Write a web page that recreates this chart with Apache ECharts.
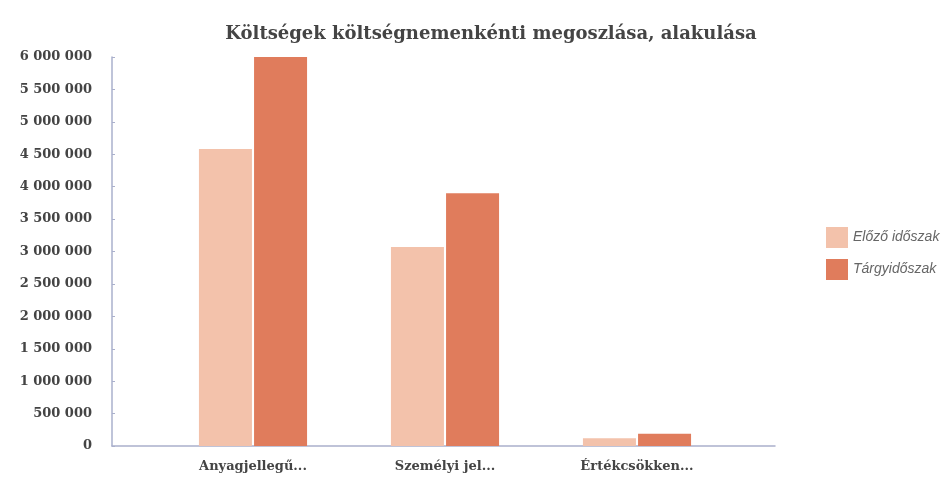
<!DOCTYPE html>
<html>
<head>
<meta charset="utf-8">
<script src="https://cdn.jsdelivr.net/npm/echarts@6/dist/echarts.min.js"></script>
<style>html,body{margin:0;padding:0;background:#fff}#c{width:941px;height:477px}</style>
</head>
<body>
<div id="c"></div>
<script>
var categories = ['Anyagjellegű...', 'Személyi jel...', 'Értékcsökken...'];
var seriesNames = ['Előző időszak', 'Tárgyidőszak'];
var prevValues = [4580000, 3070000, 120000];
var currValues = [6000000, 3900000, 190000];
var yTicks = { min: 0, max: 6000000, interval: 500000 };

var chart = echarts.init(document.getElementById('c'), null, { renderer: 'canvas' });
function fmt(v) { return String(v).replace(/\B(?=(\d{3})+(?!\d))/g, ' '); }
var serif = '"DejaVu Serif", "Liberation Serif", serif';
chart.setOption({
  animation: false,
  backgroundColor: '#fff',
  title: {
    text: 'Költségek költségnemenkénti megoszlása, alakulása',
    left: 486, top: 20, textAlign: 'center',
    textStyle: { fontFamily: serif, fontSize: 18, fontWeight: 'bold', color: '#444' }
  },
  legend: {
    orient: 'vertical', left: 821, top: 222,
    itemWidth: 22, itemHeight: 21, itemGap: 11,
    icon: 'rect',
    data: seriesNames,
    textStyle: { fontFamily: '"Liberation Sans", Arial, sans-serif', fontStyle: 'italic', fontSize: 14, color: '#666' }
  },
  grid: [
    { left: 157, right: 208, top: 57, bottom: 31 },
    { left: 112, right: 166, top: 57, bottom: 31 }
  ],
  xAxis: [
    {
      type: 'category', gridIndex: 0, data: categories,
      axisLine: { show: false }, axisTick: { show: false },
      axisLabel: { margin: 14, fontFamily: serif, fontSize: 13, fontWeight: 'bold', color: '#444' }
    },
    {
      type: 'value', gridIndex: 1, min: 0, max: 1,
      axisLine: { show: true, lineStyle: { color: '#aab0cc', width: 1.5 } },
      axisTick: { show: false }, axisLabel: { show: false }, splitLine: { show: false }
    }
  ],
  yAxis: [
    {
      type: 'value', gridIndex: 0, min: yTicks.min, max: yTicks.max, interval: yTicks.interval,
      offset: 45,
      axisLine: { show: true, lineStyle: { color: '#aab0cc', width: 1.5 } },
      axisTick: { show: true, inside: true, length: 3, lineStyle: { color: '#aab0cc' } },
      splitLine: { show: false },
      axisLabel: { margin: 20, formatter: fmt, fontFamily: serif, fontSize: 13, fontWeight: 'bold', color: '#444' }
    },
    {
      type: 'value', gridIndex: 1, min: 0, max: 1, show: false
    }
  ],
  series: [
    { name: seriesNames[0], type: 'bar', xAxisIndex: 0, yAxisIndex: 0, data: prevValues,
      barWidth: 53, barGap: '4%', itemStyle: { color: '#f3c2ab' } },
    { name: seriesNames[1], type: 'bar', xAxisIndex: 0, yAxisIndex: 0, data: currValues,
      barWidth: 53, barGap: '4%', itemStyle: { color: '#e07c5c' } }
  ]
});
</script>
</body>
</html>
